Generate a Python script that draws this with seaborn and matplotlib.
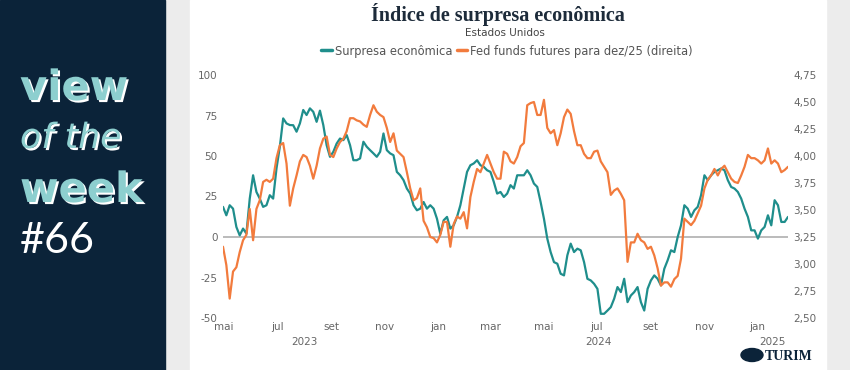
import numpy as np
import pandas as pd
import seaborn as sns
import matplotlib
matplotlib.use('Agg')
import matplotlib.pyplot as plt
from matplotlib import patheffects as pe
from matplotlib.patches import Rectangle, Ellipse

# Dados (indice de surpresa e Fed funds futures dez/25)
surpresa = [
    18.6, 13.4, 19.6, 17.5, 6.2, 1.0, 5.2, 2.1, 23.7, 38.1, 27.8, 23.7, 18.6, 19.6, 25.8,
    23.7, 42.3, 55.7, 73.2, 70.1, 69.1, 69.0, 65.0, 70.1, 78.4, 75.3, 79.4, 77.3, 71.1, 78.0,
    69.1, 56.7, 49.5, 52.6, 57.7, 60.8, 59.8, 62.9, 56.7, 47.4, 47.4, 48.5, 58.8, 55.7,
    53.6, 51.6, 49.5, 52.6, 63.9, 53.6, 51.6, 50.5, 40.2, 38.1, 35.1, 29.9, 26.8, 19.6,
    16.5, 17.5, 21.6, 17.5, 19.6, 17.5, 11.3, 2.0, 10.3, 12.4, 5.2, 7.2, 12.4, 19.6, 29.9,
    40.2, 44.3, 45.4, 47.4, 44.3, 43.3, 41.2, 40.2, 34.0, 26.8, 27.8, 24.7, 26.8, 32.0,
    29.9, 38.1, 38.1, 38.1, 41.2, 38.1, 33.0, 30.9, 21.6, 11.3, -1.0, -9.3, -15.5, -16.5,
    -22.7, -23.7, -11.3, -4.1, -9.3, -7.2, -8.2, -15.5, -25.8, -26.8, -28.9, -32.0, -47.4, -47.4,
    -45.4, -43.3, -38.1, -30.9, -34.0, -25.8, -40.2, -36.1, -34.0, -30.9, -40.2, -45.4, -32.0,
    -26.8, -23.7, -25.8, -29.9, -19.6, -14.4, -8.2, -9.3, 0.0, 7.2, 19.6, 17.5, 12.4, 16.5, 18.6, 25.8,
    38.1, 35.1, 38.1, 40.2, 41.2, 42.3, 41.2, 35.1, 30.9, 29.9, 27.8, 23.7, 17.5, 12.4, 4.1,
    4.1, -1.0, 4.1, 6.2, 13.4, 7.2, 22.7, 19.6, 9.3, 9.3, 12.4,
]
fed_funds = [
    3.16, 2.99, 2.68, 2.93, 2.97, 3.11, 3.22, 3.27, 3.51, 3.22, 3.51, 3.59, 3.76, 3.78, 3.76,
    3.79, 3.98, 4.10, 4.12, 3.93, 3.54, 3.70, 3.82, 3.95, 4.01, 3.99, 3.91, 3.79, 3.91, 4.07,
    4.16, 4.18, 4.01, 3.99, 4.07, 4.13, 4.16, 4.23, 4.35, 4.35, 4.33, 4.32, 4.29, 4.27,
    4.38, 4.47, 4.41, 4.38, 4.36, 4.26, 4.13, 4.21, 4.05, 4.02, 3.99, 3.85, 3.70, 3.59,
    3.61, 3.70, 3.40, 3.34, 3.25, 3.24, 3.20, 3.27, 3.39, 3.39, 3.16, 3.37, 3.44, 3.42, 3.48,
    3.33, 3.62, 3.76, 3.88, 3.85, 3.93, 4.01, 3.93, 3.85, 3.79, 3.79, 4.04, 4.02, 3.95,
    3.93, 3.99, 4.09, 4.12, 4.47, 4.49, 4.50, 4.38, 4.38, 4.52, 4.26, 4.21, 4.24, 4.10,
    4.21, 4.36, 4.43, 4.39, 4.23, 4.10, 4.10, 4.02, 3.98, 3.98, 4.04, 4.05, 3.95, 3.90,
    3.85, 3.64, 3.68, 3.70, 3.65, 3.59, 3.02, 3.20, 3.20, 3.28, 3.22, 3.20, 3.14, 3.16, 3.08,
    2.96, 2.80, 2.83, 2.83, 2.79, 2.86, 2.89, 3.05, 3.42, 3.39, 3.36, 3.40, 3.47, 3.54,
    3.70, 3.78, 3.82, 3.88, 3.82, 3.88, 3.91, 3.85, 3.79, 3.76, 3.75, 3.82, 3.90, 4.01, 3.98,
    3.98, 3.96, 3.93, 3.96, 4.07, 3.93, 3.96, 3.93, 3.85, 3.87, 3.90,
]
datas = pd.date_range('2023-04-30', '2025-02-05', periods=len(surpresa))

meses_pos = pd.date_range('2023-05-01', '2025-01-01', freq='2MS')
meses = ['mai', 'jul', 'set', 'nov', 'jan', 'mar', 'mai', 'jul', 'set', 'nov', 'jan']
anos = ['2023', '2024', '2025']
anos_pos = pd.to_datetime(['2023-08-01', '2024-07-03', '2025-01-18'])
ticks_esq = [-50, -25, 0, 25, 50, 75, 100]
ticks_dir = [2.50, 2.75, 3.00, 3.25, 3.50, 3.75, 4.00, 4.25, 4.50, 4.75]

teal = '#1f8e8c'
laranja = '#f27b3d'
navy = '#0b2339'
cinza = '#666666'

sns.set_theme(style='white')
plt.rcParams['font.family'] = ['DejaVu Sans']

W, H = 850, 370
fig = plt.figure(figsize=(8.5, 3.7), dpi=100, facecolor='#ececec')
fig.patches.append(Rectangle((0, 0), 165 / W, 1, transform=fig.transFigure, color=navy, zorder=-2))
fig.patches.append(Rectangle((190 / W, 0), 636 / W, 1, transform=fig.transFigure, color='white', zorder=-2))

# painel esquerdo
sombra = [pe.SimplePatchShadow(offset=(1.5, -1.5), shadow_rgbFace='white', alpha=1.0), pe.Normal()]
fig.text(20 / W, 1 - 100 / H, 'view', color='#8dcfcf', fontsize=30, fontweight='bold',
         va='baseline', path_effects=sombra)
fig.text(20 / W, 1 - 148 / H, 'of the', color='#8dcfcf', fontsize=25, style='italic',
         va='baseline', path_effects=sombra)
fig.text(20 / W, 1 - 202 / H, 'week', color='#8dcfcf', fontsize=30, fontweight='bold',
         va='baseline', path_effects=sombra)
fig.text(20 / W, 1 - 253 / H, '#66', color='white', fontsize=31, fontweight='normal',
         family=['Lato', 'DejaVu Sans'], va='baseline')

# titulo
fig.text(498 / W, 1 - 14 / H, 'Índice de surpresa econômica', family='Liberation Serif',
         fontweight='bold', fontsize=14.5, color='#1d2b3a', ha='center', va='center')
fig.text(505 / W, 1 - 33 / H, 'Estados Unidos', fontsize=7.5, color='#444444', ha='center', va='center')

ax = fig.add_axes([223 / W, 1 - 318 / H, 565 / W, 243 / H])
ax.set_facecolor('none')
ax2 = ax.twinx()
ax2.set_facecolor('none')

ax.axhline(0, color='#b5b5b5', lw=1.3, zorder=0)
sns.lineplot(x=datas, y=surpresa, ax=ax, color=teal, lw=1.6, label='Surpresa econômica')
sns.lineplot(x=datas, y=fed_funds, ax=ax2, color=laranja, lw=1.6,
             label='Fed funds futures para dez/25 (direita)')

ax.set_xlim(datas[0], datas[-1])
ax.set_ylim(-50, 100)
ax2.set_ylim(2.5, 4.75)
ax.set_yticks(ticks_esq)
ax.set_yticklabels([str(t) for t in ticks_esq])
ax2.set_yticks(ticks_dir)
ax2.set_yticklabels([f'{t:.2f}'.replace('.', ',') for t in ticks_dir])
ax.set_xticks(meses_pos)
ax.set_xticklabels(meses)
ax.set_xlabel('')
ax.set_ylabel('')
ax2.set_ylabel('')

for a in (ax, ax2):
    for s in a.spines.values():
        s.set_visible(False)
    a.tick_params(length=0, labelsize=7.5, labelcolor=cinza, pad=4)
ax.tick_params(axis='x', pad=3)

for ano, pos in zip(anos, anos_pos):
    ax.text(pos, -0.099, ano, transform=ax.get_xaxis_transform(), ha='center', va='center',
            fontsize=7.5, color=cinza)

h1, l1 = ax.get_legend_handles_labels()
h2, l2 = ax2.get_legend_handles_labels()
ax.get_legend().remove()
ax2.get_legend().remove()
leg = fig.legend(h1 + h2, l1 + l2, loc='center', bbox_to_anchor=(507 / W, 1 - 51 / H), ncol=2,
                 frameon=False, fontsize=8.3, handlelength=0.9, handletextpad=0.25,
                 columnspacing=0.4, labelcolor='#555555')
for ln in leg.get_lines():
    ln.set_linewidth(2.5)

# logo
fig.patches.append(Ellipse((752 / W, 1 - 355 / H), 22 / W, 13 / H, transform=fig.transFigure,
                           color=navy, zorder=3))
fig.text(789 / W, 1 - 356 / H, 'TURIM', family='Liberation Serif', fontweight='bold',
         fontsize=10, color=navy, ha='center', va='center')

fig.savefig('out.png', dpi=100, facecolor=fig.get_facecolor())
